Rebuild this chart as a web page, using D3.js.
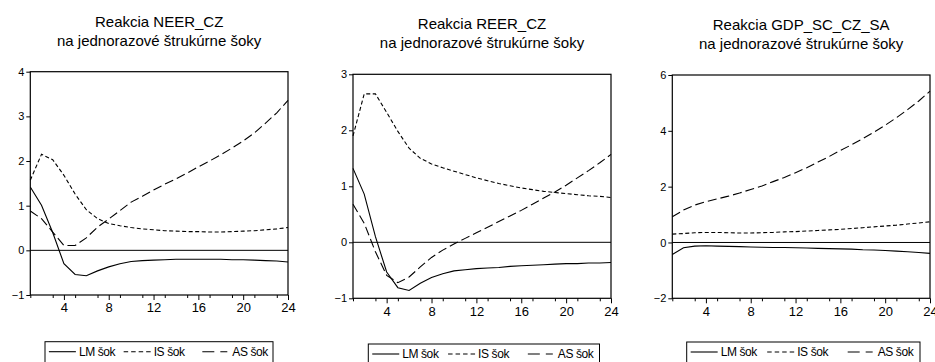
<!DOCTYPE html>
<html>
<head>
<meta charset="utf-8">
<script src="https://cdn.jsdelivr.net/npm/d3@7"></script>
<style>
  body { margin: 0; background: #fff; }
  svg { display: block; font-family: Arial, "Liberation Sans", sans-serif; }
</style>
</head>
<body>
<svg id="vis" width="935" height="362"></svg>
<script>
// periods of the impulse responses
const periods = [1,2,3,4,5,6,7,8,9,10,11,12,13,14,15,16,17,18,19,20,21,22,23,24]
const xTickLabels = [4, 8, 12, 16, 20, 24]

const titles = ['Reakcia NEER_CZ', 'Reakcia REER_CZ', 'Reakcia GDP_SC_CZ_SA']
const subtitle = 'na jednorazové štrukúrne šoky'
const legendLabels = ['LM šok', 'IS šok', 'AS šok']

// NEER_CZ
const neerLM = [1.42, 1.01, 0.40, -0.30, -0.54, -0.57, -0.46, -0.37, -0.30, -0.25, -0.23, -0.22, -0.21, -0.20, -0.20, -0.20, -0.20, -0.20, -0.21, -0.21, -0.22, -0.23, -0.24, -0.26]
const neerIS = [1.57, 2.15, 2.03, 1.68, 1.26, 0.91, 0.71, 0.60, 0.55, 0.51, 0.48, 0.46, 0.44, 0.43, 0.42, 0.42, 0.41, 0.41, 0.42, 0.43, 0.44, 0.46, 0.48, 0.51]
const neerAS = [0.88, 0.71, 0.41, 0.11, 0.11, 0.28, 0.52, 0.70, 0.89, 1.08, 1.21, 1.35, 1.48, 1.60, 1.73, 1.87, 2.00, 2.14, 2.29, 2.45, 2.63, 2.85, 3.08, 3.36]
const neerYTicks = [-1, 0, 1, 2, 3, 4]

// REER_CZ
const reerLM = [1.32, 0.86, 0.10, -0.53, -0.81, -0.86, -0.73, -0.63, -0.56, -0.51, -0.49, -0.47, -0.46, -0.45, -0.43, -0.42, -0.41, -0.40, -0.39, -0.38, -0.38, -0.37, -0.37, -0.36]
const reerIS = [1.90, 2.65, 2.65, 2.32, 1.98, 1.68, 1.50, 1.40, 1.33, 1.27, 1.21, 1.15, 1.10, 1.05, 1.01, 0.97, 0.94, 0.91, 0.89, 0.87, 0.85, 0.83, 0.82, 0.80]
const reerAS = [0.68, 0.34, -0.17, -0.59, -0.72, -0.62, -0.44, -0.27, -0.14, -0.03, 0.07, 0.17, 0.27, 0.37, 0.47, 0.57, 0.68, 0.79, 0.90, 1.02, 1.15, 1.28, 1.42, 1.57]
const reerYTicks = [-1, 0, 1, 2, 3]

// GDP_SC_CZ_SA
const gdpLM = [-0.43, -0.19, -0.13, -0.12, -0.13, -0.14, -0.15, -0.16, -0.17, -0.18, -0.18, -0.19, -0.20, -0.21, -0.22, -0.23, -0.24, -0.26, -0.27, -0.29, -0.31, -0.33, -0.36, -0.39]
const gdpIS = [0.30, 0.32, 0.35, 0.36, 0.36, 0.35, 0.34, 0.34, 0.35, 0.36, 0.38, 0.39, 0.41, 0.43, 0.45, 0.47, 0.50, 0.53, 0.56, 0.59, 0.62, 0.66, 0.70, 0.74]
const gdpAS = [0.92, 1.16, 1.34, 1.46, 1.56, 1.66, 1.77, 1.90, 2.02, 2.18, 2.33, 2.50, 2.68, 2.88, 3.08, 3.30, 3.50, 3.72, 3.95, 4.20, 4.47, 4.76, 5.07, 5.42]
const gdpYTicks = [-2, 0, 2, 4, 6]

// line styles: LM solid, IS short dashes, AS long dashes
const dashes = [null, '4,2.5', '9,4']
const legendDashes = [null, '4.5,3', '12,6,7']

const panels = [
  {title: titles[0], series: [neerLM, neerIS, neerAS], yTicks: neerYTicks, box: {l: 30.3, r: 288, t: 71.7, b: 295}, legend: {l: 45, r: 273, t: 341.7}},
  {title: titles[1], series: [reerLM, reerIS, reerAS], yTicks: reerYTicks, box: {l: 353, r: 611, t: 74.3, b: 298.3}, legend: {l: 368.3, r: 599.5, t: 344}},
  {title: titles[2], series: [gdpLM, gdpIS, gdpAS], yTicks: gdpYTicks, box: {l: 672.3, r: 930, t: 75, b: 298.3}, legend: {l: 686.7, r: 920, t: 342}}
]

const svg = d3.select('#vis')

panels.forEach(p => {
  const b = p.box
  const x = d3.scaleLinear().domain([1, 24]).range([b.l, b.r])
  const y = d3.scaleLinear().domain(d3.extent(p.yTicks)).range([b.b, b.t])
  const g = svg.append('g')
  const cx = (b.l + b.r) / 2

  //titles
  g.append('text').attr('x', cx).attr('y', b.t - 45)
    .attr('text-anchor', 'middle').attr('font-size', 15).text(p.title)
  g.append('text').attr('x', cx).attr('y', b.t - 26)
    .attr('text-anchor', 'middle').attr('font-size', 15).text(subtitle)

  //left axis
  const yAxis = d3.axisLeft(y).tickValues(p.yTicks).tickFormat(d3.format('d')).tickSize(4).tickPadding(2)
  g.append('g').attr('transform', 'translate(' + b.l + ',0)').call(yAxis)
    .call(a => a.select('.domain').remove())
    .selectAll('text').attr('font-size', 11).attr('fill', '#000')

  //bottom axis: minor ticks on odd periods, labelled ticks every 4
  const minor = periods.filter(d => d % 2 === 1)
  g.append('g').attr('transform', 'translate(0,' + b.b + ')')
    .call(d3.axisBottom(x).tickValues(minor).tickSize(3).tickFormat(''))
    .call(a => a.select('.domain').remove())
  g.append('g').attr('transform', 'translate(0,' + b.b + ')')
    .call(d3.axisBottom(x).tickValues(xTickLabels).tickSize(5).tickPadding(3))
    .call(a => a.select('.domain').remove())
    .selectAll('text').attr('font-size', 13).attr('fill', '#000')

  g.selectAll('.tick line').attr('stroke', '#000')

  //zero line
  g.append('line').attr('x1', b.l).attr('x2', b.r)
    .attr('y1', y(0)).attr('y2', y(0)).attr('stroke', '#000').attr('stroke-width', 1)

  //responses
  const line = d3.line().x((d, i) => x(periods[i])).y(d => y(d))
  p.series.forEach((s, i) => {
    g.append('path').datum(s).attr('d', line)
      .attr('fill', 'none').attr('stroke', '#000').attr('stroke-width', 1.1)
      .attr('stroke-dasharray', dashes[i])
  })

  //frame
  g.append('rect').attr('x', b.l).attr('y', b.t)
    .attr('width', b.r - b.l).attr('height', b.b - b.t)
    .attr('fill', 'none').attr('stroke', '#000').attr('stroke-width', 1.2)

  //legend
  const L = p.legend
  const w = L.r - L.l
  g.append('rect').attr('x', L.l).attr('y', L.t).attr('width', w).attr('height', 30)
    .attr('fill', 'none').attr('stroke', '#000').attr('stroke-width', 1)
  const offs = [0.017, 0.345, 0.69]
  legendLabels.forEach((lab, i) => {
    const lx = L.l + w * offs[i]
    g.append('line').attr('x1', lx).attr('x2', lx + 27)
      .attr('y1', L.t + 10).attr('y2', L.t + 10)
      .attr('stroke', '#000').attr('stroke-width', 1.1)
      .attr('stroke-dasharray', legendDashes[i])
    g.append('text').attr('x', lx + 30).attr('y', L.t + 14)
      .attr('font-size', 12).attr('letter-spacing', -0.4).text(lab)
  })
})
</script>
</body>
</html>
